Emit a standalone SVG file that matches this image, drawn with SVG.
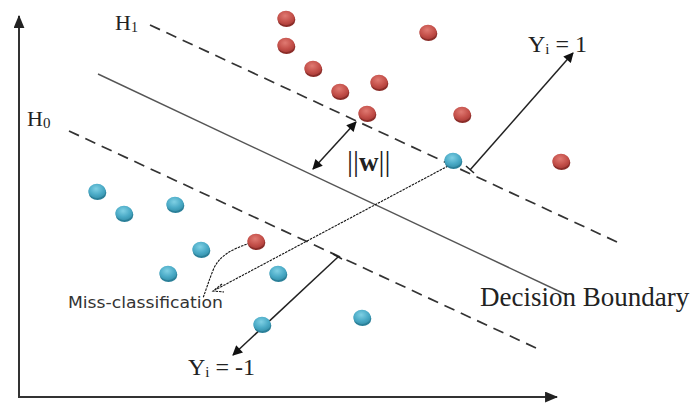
<svg xmlns="http://www.w3.org/2000/svg" width="692" height="408" viewBox="0 0 692 408">
<defs>
<radialGradient id="gr" cx="0.45" cy="0.35" r="0.7">
<stop offset="0" stop-color="#e07a72"/>
<stop offset="0.6" stop-color="#c4504a"/>
<stop offset="1" stop-color="#a83a36"/>
</radialGradient>
<radialGradient id="gc" cx="0.45" cy="0.35" r="0.7">
<stop offset="0" stop-color="#7fd0e4"/>
<stop offset="0.6" stop-color="#4aaac6"/>
<stop offset="1" stop-color="#3590aa"/>
</radialGradient>
<marker id="ah" viewBox="0 0 10 10" refX="9" refY="5" markerWidth="11" markerHeight="10" markerUnits="userSpaceOnUse" orient="auto-start-reverse">
<path d="M0,0 L10,5 L0,10 z" fill="#111"/>
</marker>
<marker id="ahb" viewBox="0 0 12 10" refX="11" refY="5" markerWidth="13" markerHeight="11" markerUnits="userSpaceOnUse" orient="auto">
<path d="M0,0 L12,5 L0,10 z" fill="#222"/>
</marker>
<g id="red">
<ellipse cx="0.5" cy="1.8" rx="8.8" ry="7.2" fill="#8a2c28"/>
<ellipse cx="0" cy="0" rx="8.8" ry="7.2" fill="url(#gr)"/>
</g>
<g id="cyan">
<ellipse cx="0.5" cy="1.8" rx="8.8" ry="7.2" fill="#2a7f98"/>
<ellipse cx="0" cy="0" rx="8.8" ry="7.2" fill="url(#gc)"/>
</g>
</defs>
<style>
.serif{font-family:"Liberation Serif","Times New Roman",serif;fill:#222}
.sans{font-family:"DejaVu Sans","Liberation Sans",sans-serif;fill:#333}
.axis{stroke:#333;stroke-width:2;fill:none}
.dash{stroke:#333;stroke-width:1.7;stroke-dasharray:11 7;fill:none}
.solid{stroke:#555;stroke-width:1.4;fill:none}
.arr{stroke:#222;stroke-width:1.5;fill:none}
.dot{stroke:#111;stroke-width:1.1;stroke-dasharray:2.5 1;fill:none}
</style>
<rect width="692" height="408" fill="#fff"/>
<g id="connectors">
<line class="axis" x1="19" y1="397" x2="19" y2="16" marker-end="url(#ahb)"/>
<line class="axis" x1="18" y1="397" x2="557" y2="397" marker-end="url(#ahb)"/>
<line class="dash" x1="150" y1="25" x2="617" y2="242"/>
<line class="solid" x1="98" y1="74" x2="567" y2="295"/>
<line class="dash" x1="69" y1="131" x2="536" y2="348"/>
<line class="arr" x1="313" y1="169" x2="356" y2="122" marker-start="url(#ah)" marker-end="url(#ah)"/>
<line class="arr" x1="470" y1="170" x2="573" y2="53" marker-end="url(#ah)"/>
<line class="arr" x1="466" y1="166" x2="474" y2="173"/>
<line class="arr" x1="338" y1="257" x2="233" y2="355" marker-end="url(#ah)"/>
<line class="arr" x1="333" y1="254" x2="342" y2="259"/>
<path class="dot" d="M448,166 L215,290"/>
<path class="dot" d="M222,284 L213,291 L224,292"/>
<path class="dot" d="M250,243 C230,250 220,256 214,268 C209,280 206,290 203,298"/>
</g>
<g id="p-r1"><use href="#red" x="286" y="18"/></g>
<g id="p-r2"><use href="#red" x="286" y="45"/></g>
<g id="p-r3"><use href="#red" x="313" y="68"/></g>
<g id="p-r4"><use href="#red" x="340" y="91"/></g>
<g id="p-r5"><use href="#red" x="379" y="82"/></g>
<g id="p-r6"><use href="#red" x="367" y="113"/></g>
<g id="p-r7"><use href="#red" x="428" y="32"/></g>
<g id="p-r8"><use href="#red" x="462" y="114"/></g>
<g id="p-r9"><use href="#red" x="561" y="161"/></g>
<g id="p-r10"><use href="#red" x="256" y="241"/></g>
<g id="p-c1"><use href="#cyan" x="97" y="191"/></g>
<g id="p-c2"><use href="#cyan" x="124" y="213"/></g>
<g id="p-c3"><use href="#cyan" x="175" y="204"/></g>
<g id="p-c4"><use href="#cyan" x="201" y="249"/></g>
<g id="p-c5"><use href="#cyan" x="168" y="273"/></g>
<g id="p-c6"><use href="#cyan" x="278" y="273"/></g>
<g id="p-c7"><use href="#cyan" x="262" y="324"/></g>
<g id="p-c8"><use href="#cyan" x="362" y="317"/></g>
<g id="p-c9"><use href="#cyan" x="453" y="160"/></g>
<g id="label-h1"><text class="serif" x="115" y="30" font-size="22">H<tspan font-size="14" dy="2">1</tspan></text></g>
<g id="label-h0"><text class="serif" x="27" y="126" font-size="22">H<tspan font-size="15" dy="2">0</tspan></text></g>
<g id="label-w"><text class="serif" x="347" y="171" font-size="30">||<tspan font-weight="bold" font-size="27">w</tspan>||</text></g>
<g id="label-y1"><text class="serif" x="528" y="52" font-size="24">Y<tspan font-size="15" dy="2">i</tspan><tspan dy="-2"> = 1</tspan></text></g>
<g id="label-ym1"><text class="serif" x="188" y="375" font-size="24">Y<tspan font-size="15" dy="2">i</tspan><tspan dy="-2"> = -1</tspan></text></g>
<g id="label-db"><text class="serif" x="480" y="306" font-size="27">Decision Boundary</text></g>
<g id="label-miss"><text class="sans" x="68" y="308" font-size="16" textLength="155" lengthAdjust="spacingAndGlyphs">Miss-classification</text></g>
</svg>
